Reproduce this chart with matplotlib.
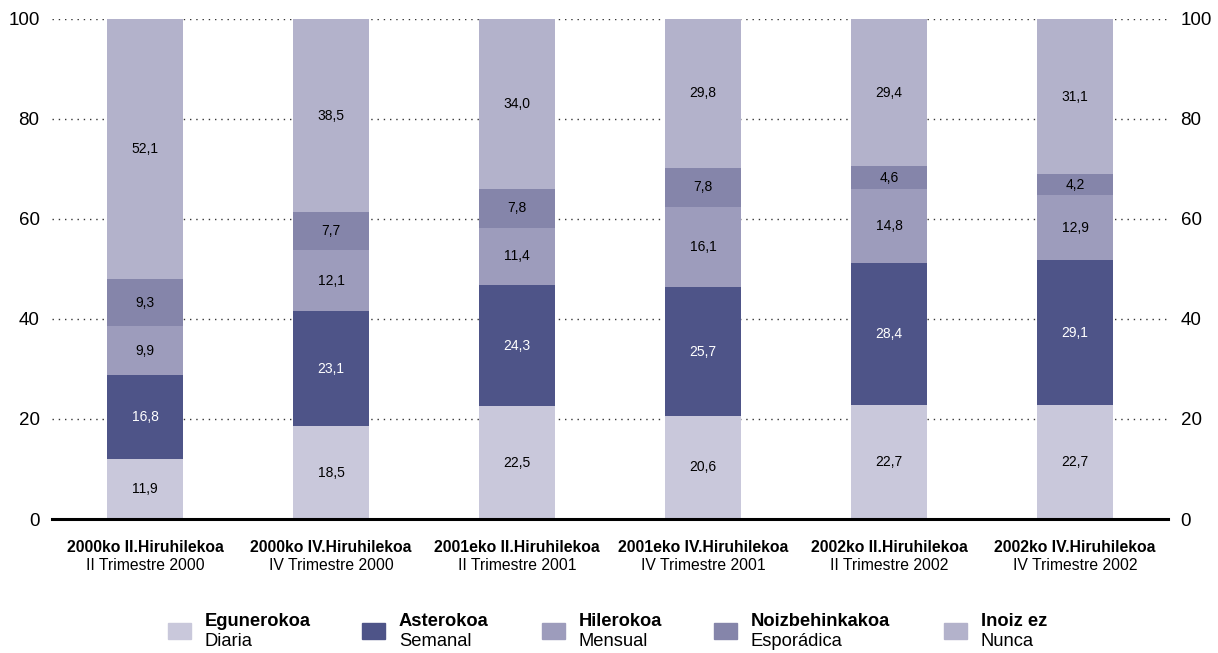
import numpy as np
import matplotlib.pyplot as plt
from matplotlib.patches import Rectangle

plt.rcParams['font.family'] = ['Liberation Sans', 'DejaVu Sans']

# datos
cat_eu = ['2000ko II.Hiruhilekoa', '2000ko IV.Hiruhilekoa', '2001eko II.Hiruhilekoa',
          '2001eko IV.Hiruhilekoa', '2002ko II.Hiruhilekoa', '2002ko IV.Hiruhilekoa']
cat_es = ['II Trimestre 2000', 'IV Trimestre 2000', 'II Trimestre 2001',
          'IV Trimestre 2001', 'II Trimestre 2002', 'IV Trimestre 2002']

diaria = [11.9, 18.5, 22.5, 20.6, 22.7, 22.7]
semanal = [16.8, 23.1, 24.3, 25.7, 28.4, 29.1]
mensual = [9.9, 12.1, 11.4, 16.1, 14.8, 12.9]
esporadica = [9.3, 7.7, 7.8, 7.8, 4.6, 4.2]
nunca = [52.1, 38.5, 34.0, 29.8, 29.4, 31.1]

series = [diaria, semanal, mensual, esporadica, nunca]
names_eu = ['Egunerokoa', 'Asterokoa', 'Hilerokoa', 'Noizbehinkakoa', 'Inoiz ez']
names_es = ['Diaria', 'Semanal', 'Mensual', 'Esporádica', 'Nunca']
colors = ['#c9c8db', '#4e5488', '#9d9cbc', '#8585aa', '#b3b2cb']
txt_colors = ['black', 'white', 'black', 'black', 'black']

fig = plt.figure(figsize=(12.18, 6.53), dpi=100)
ax = fig.add_axes([0.0427, 0.2052, 0.9163, 0.7658])

x = np.arange(len(cat_eu))
bottom = np.zeros(len(x))
for vals, c, tc in zip(series, colors, txt_colors):
    vals = np.array(vals)
    ax.bar(x, vals, 0.41, bottom=bottom, color=c, zorder=3)
    for xi, b, v in zip(x, bottom, vals):
        ax.text(xi, b + v / 2, f'{v:.1f}'.replace('.', ','), ha='center', va='center',
                fontsize=10, color=tc, zorder=4)
    bottom += vals

ax.set_xlim(-0.5, 5.5)
ax.set_ylim(0, 100)
ax.set_yticks([0, 20, 40, 60, 80, 100])
ax.yaxis.grid(True, linestyle=(0, (1, 3.5)), color='#333333', linewidth=1.0, zorder=0)
for s in ['top', 'right', 'left']:
    ax.spines[s].set_visible(False)
ax.spines['bottom'].set_linewidth(2.2)
ax.spines['bottom'].set_zorder(5)
ax.tick_params(axis='y', length=0, labelsize=13.5, pad=9, labelright=True, right=False)
ax.set_xticks([])
ax.set_axisbelow(True)

for xi, eu, es in zip(x, cat_eu, cat_es):
    ax.text(xi, -5.6, eu, ha='center', va='center', fontsize=11.3, fontweight='bold',
            transform=ax.transData, clip_on=False)
    ax.text(xi, -9.3, es, ha='center', va='center', fontsize=11.3,
            transform=ax.transData, clip_on=False)

# leyenda
leg_x = [168, 362, 542, 714, 944]
W, H = 1218, 653
for lx, c, eu, es in zip(leg_x, colors, names_eu, names_es):
    fig.patches.append(Rectangle((lx / W, 1 - 639 / H), 23 / W, 16 / H,
                                 transform=fig.transFigure, color=c))
    fig.text((lx + 37) / W, 1 - 621 / H, eu, fontsize=13.2, fontweight='bold',
             va='center', ha='left')
    fig.text((lx + 37) / W, 1 - 641 / H, es, fontsize=13.2, va='center', ha='left')

fig.savefig('out.png', dpi=100)
